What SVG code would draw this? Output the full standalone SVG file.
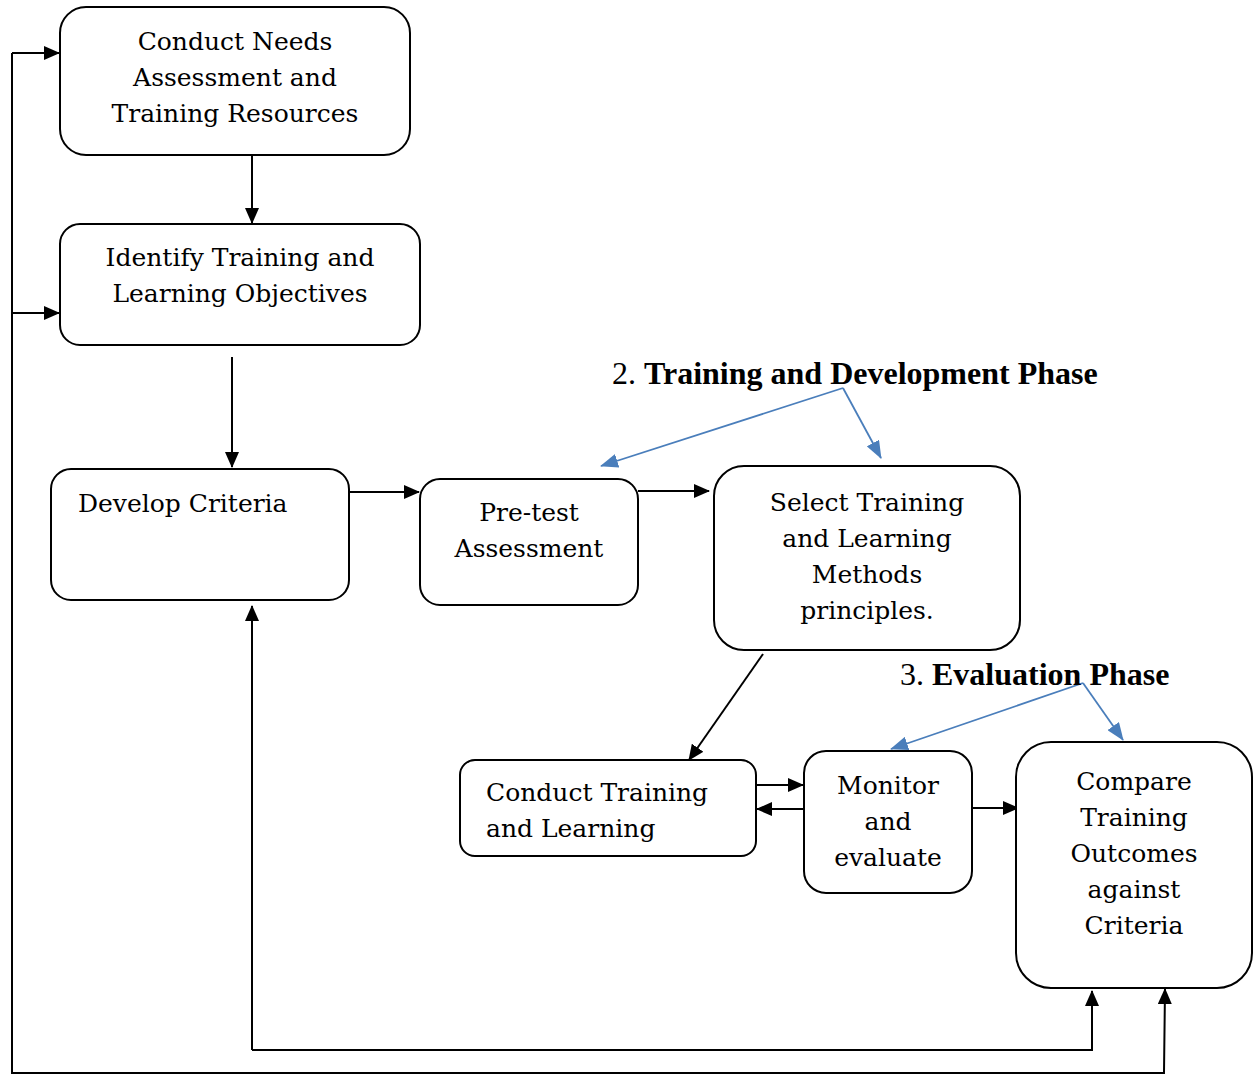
<svg xmlns="http://www.w3.org/2000/svg" width="1256" height="1077" viewBox="0 0 1256 1077">
<style>
.box{fill:#fff;stroke:#000;stroke-width:2}
.t{font-family:"DejaVu Serif","Liberation Serif",serif;font-size:25px;fill:#000}
.c{text-anchor:middle}
.ln{fill:none;stroke:#000;stroke-width:2}
.bl{fill:none;stroke:#4a7ebb;stroke-width:1.8}
.ph{font-family:"Liberation Serif","Times New Roman",serif;font-size:32px;fill:#000}
</style>
<defs>
<marker id="a" markerUnits="userSpaceOnUse" markerWidth="16" markerHeight="14" refX="15" refY="7" orient="auto"><path d="M0,0 L16,7 L0,14 Z" fill="#000"/></marker>
<marker id="b" markerUnits="userSpaceOnUse" markerWidth="18" markerHeight="14" refX="17" refY="7" orient="auto"><path d="M0,0 L18,7 L0,14 Z" fill="#4a7ebb"/></marker>
</defs>
<g id="connectors">
<path class="ln" d="M252,155 V223" marker-end="url(#a)"/>
<path class="ln" d="M232,357 V467" marker-end="url(#a)"/>
<path class="ln" d="M349,492 H419" marker-end="url(#a)"/>
<path class="ln" d="M638,491 H709" marker-end="url(#a)"/>
<path class="ln" d="M763,654 L689,760" marker-end="url(#a)"/>
<path class="ln" d="M756,785 H803" marker-end="url(#a)"/>
<path class="ln" d="M804,809 H757" marker-end="url(#a)"/>
<path class="ln" d="M972,808 H1018" marker-end="url(#a)"/>
<path class="ln" d="M12,53 H59" marker-end="url(#a)"/>
<path class="ln" d="M12,313 H59" marker-end="url(#a)"/>
<path class="ln" d="M12,53 V1073 H1164 L1165,989" marker-end="url(#a)"/>
<path class="ln" d="M252,1050 V606" marker-end="url(#a)"/>
<path class="ln" d="M252,1050 H1092 V991" marker-end="url(#a)"/>
<path class="bl" d="M843,388 L601,466" marker-end="url(#b)"/>
<path class="bl" d="M843,388 L881,458" marker-end="url(#b)"/>
<path class="bl" d="M1083,683 L891,749" marker-end="url(#b)"/>
<path class="bl" d="M1083,683 L1123,740" marker-end="url(#b)"/>
</g>
<g id="n1"><rect class="box" x="60" y="7" width="350" height="148" rx="26"/>
<text class="t c" x="235" y="50">Conduct Needs</text><text class="t c" x="235" y="86">Assessment and</text><text class="t c" x="235" y="122">Training Resources</text></g>
<g id="n2"><rect class="box" x="60" y="224" width="360" height="121" rx="20"/>
<text class="t c" x="240" y="266">Identify Training and</text><text class="t c" x="240" y="302">Learning Objectives</text></g>
<g id="n3"><rect class="box" x="51" y="469" width="298" height="131" rx="20"/>
<text class="t" x="78" y="512">Develop Criteria</text></g>
<g id="n4"><rect class="box" x="420" y="479" width="218" height="126" rx="20"/>
<text class="t c" x="529" y="521">Pre-test</text><text class="t c" x="529" y="557">Assessment</text></g>
<g id="n5"><rect class="box" x="714" y="466" width="306" height="184" rx="30"/>
<text class="t c" x="867" y="511">Select Training</text><text class="t c" x="867" y="547">and Learning</text><text class="t c" x="867" y="583">Methods</text><text class="t c" x="867" y="619">principles.</text></g>
<g id="n6"><rect class="box" x="460" y="760" width="296" height="96" rx="15"/>
<text class="t" x="486" y="801">Conduct Training</text><text class="t" x="486" y="837">and Learning</text></g>
<g id="n7"><rect class="box" x="804" y="751" width="168" height="142" rx="22"/>
<text class="t c" x="888" y="794">Monitor</text><text class="t c" x="888" y="830">and</text><text class="t c" x="888" y="866">evaluate</text></g>
<g id="n8"><rect class="box" x="1016" y="742" width="236" height="246" rx="35"/>
<text class="t c" x="1134" y="790">Compare</text><text class="t c" x="1134" y="826">Training</text><text class="t c" x="1134" y="862">Outcomes</text><text class="t c" x="1134" y="898">against</text><text class="t c" x="1134" y="934">Criteria</text></g>
<text class="ph" x="612" y="384">2. <tspan font-weight="bold">Training and Development Phase</tspan></text>
<text class="ph" x="900" y="685">3. <tspan font-weight="bold">Evaluation Phase</tspan></text>
</svg>
